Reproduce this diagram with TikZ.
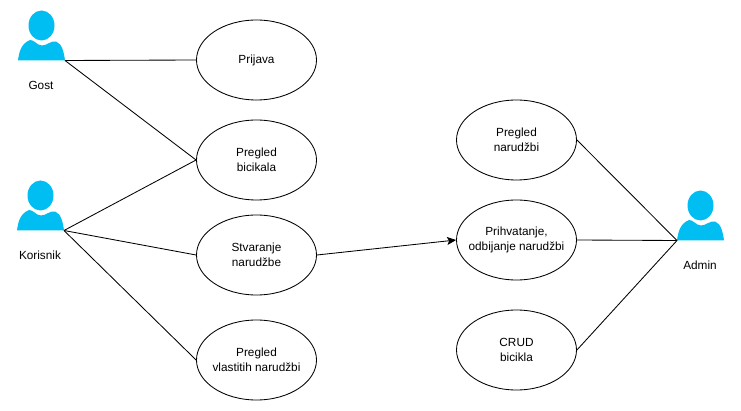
\documentclass[tikz,border=0pt]{standalone}
\usepackage{fontspec}
\setmainfont{Liberation Sans}
\usetikzlibrary{shapes.geometric,arrows.meta}
\definecolor{actorblue}{HTML}{00BEF2}
\tikzset{
  usecase/.style={draw, line width=.85pt, ellipse, minimum width=120, minimum height=80, inner xsep=-16pt, inner ysep=0pt, align=center, font=\fontsize{11.8}{15}\selectfont},
  actorname/.style={font=\fontsize{11.8}{14}\selectfont},
  link/.style={draw, line width=.85pt},
  pics/actor/.style={code={
    \fill[actorblue] (23.5,15) ellipse [x radius=13, y radius=15];
    \fill[actorblue] (0,50) .. controls (1,42) and (3,33) .. (12,29.5)
      .. controls (16,29) and (19,35) .. (24,35)
      .. controls (29,35) and (33,30) .. (38,31)
      .. controls (44,33) and (46,42) .. (47,50) -- cycle;
    \coordinate (-l) at (0,50);
    \coordinate (-r) at (47,50);
  }}
}
\begin{document}
\begin{tikzpicture}[>={Stealth[length=9pt,width=8pt,inset=2pt]}, x=1pt, y=-1pt]
\useasboundingbox (0,0) rectangle (741,411);

\pic (gost) at (18,10.5) {actor};
\pic (korisnik) at (17,180.5) {actor};
\pic (admin) at (677,190.5) {actor};
\node[actorname] (gostname) at (41,85){Gost};
\node[actorname] (korisnikname) at (40,255){Korisnik};
\node[actorname] (adminname) at (700,265){Admin};

\node[usecase] (prijava) at (256.5,60){Prijava};
\node[usecase] (pregledbic) at (256.5,160){Pregled\\bicikala};
\node[usecase] (stvaranje) at (256.5,255){Stvaranje\\narudžbe};
\node[usecase] (vlastite) at (256.5,360){Pregled\\vlastitih narudžbi};
\node[usecase] (preglednar) at (516.5,140){Pregled\\narudžbi};
\node[usecase] (prihvat) at (516.5,240){Prihvatanje,\\odbijanje narudžbi};
\node[usecase] (crud) at (516.5,350){CRUD\\bicikla};

\draw[link] (gost-r)--(prijava.west);
\draw[link] (gost-r)--(pregledbic.west);
\draw[link] (korisnik-r)--(pregledbic.west);
\draw[link] (korisnik-r)--(stvaranje.west);
\draw[link] (korisnik-r)--(vlastite.west);
\draw[link,->] (stvaranje.east)--(prihvat.west);
\draw[link] (preglednar.east)--(admin-l);
\draw[link] (prihvat.east)--(admin-l);
\draw[link] (crud.east)--(admin-l);
\end{tikzpicture}
\end{document}
